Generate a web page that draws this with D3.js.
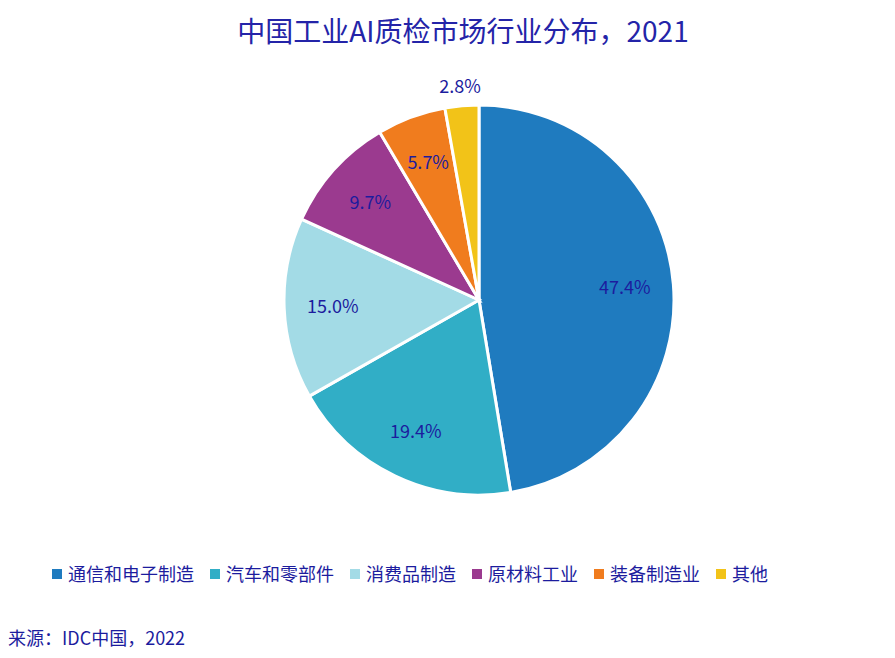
<!DOCTYPE html>
<html><head><meta charset="utf-8">
<script src="https://cdn.jsdelivr.net/npm/d3@7"></script>
<style>body{margin:0;background:#fff}text{font-family:"Noto Sans CJK SC","Open Sans",sans-serif}</style>
</head><body>
<svg id="c" width="895" height="658"></svg>
<script>
const categories=["通信和电子制造","汽车和零部件","消费品制造","原材料工业","装备制造业","其他"];
const values=[47.4,19.4,15.0,9.7,5.7,2.8];
const colors=["#1f7bbf","#31aec6","#a3dbe6","#9b3a8f","#f07c1e","#f2c318"];
const svg=d3.select("#c");
const cx=479,cy=300,r=195;
svg.append("text").attr("x",463).attr("y",42).attr("text-anchor","middle").attr("font-size",28).attr("fill","#2424a8").text("中国工业AI质检市场行业分布，2021");
const pie=d3.pie().sort(null).value(d=>d)(values);
const arc=d3.arc().innerRadius(0).outerRadius(r);
const g=svg.append("g").attr("transform",`translate(${cx},${cy})`);
g.selectAll("path").data(pie).join("path").attr("d",arc).attr("fill",(d,i)=>colors[i]).attr("stroke","#fff").attr("stroke-width",3);
const lin=d3.arc().innerRadius(r*0.75).outerRadius(r*0.75);
const lout=d3.arc().innerRadius(r*1.1).outerRadius(r*1.1);
g.selectAll("text.l").data(pie).join("text").attr("class","l")
 .attr("transform",(d,i)=>`translate(${(i==5?lout:lin).centroid(d)})`)
 .attr("text-anchor","middle").attr("dy","0.35em").attr("font-size",18).attr("fill","#1c1c9e")
 .text(d=>d.data.toFixed(1)+"%");
const lg=svg.append("g");
let x=52;
categories.forEach((c,i)=>{
 lg.append("rect").attr("x",x).attr("y",569).attr("width",10).attr("height",10).attr("fill",colors[i]);
 const t=lg.append("text").attr("x",x+16).attr("y",581).attr("font-size",18).attr("fill","#1c1c9e").text(c);
 x+=t.node().getComputedTextLength()+32;
});
svg.append("text").attr("x",8).attr("y",645).attr("font-size",18).attr("fill","#1c1c9e").text("来源：IDC中国，2022");
</script></body></html>
